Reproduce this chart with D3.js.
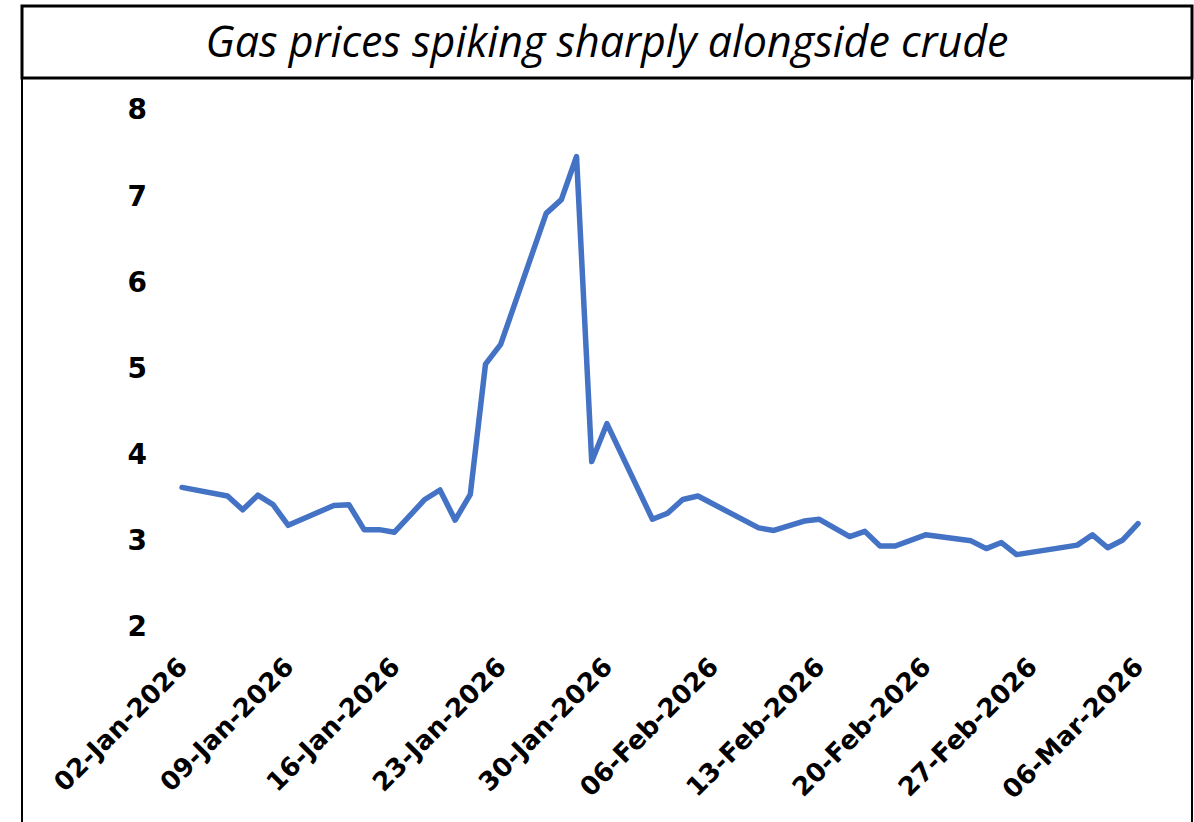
<!DOCTYPE html>
<meta charset="utf-8">
<script src="https://d3js.org/d3.v7.min.js"></script>
<style>
body { margin: 0; background: #fff; }
</style>
<body>
<script>

// Data
var dates = ["2026-01-02","2026-01-05","2026-01-06","2026-01-07","2026-01-08","2026-01-09",
             "2026-01-12","2026-01-13","2026-01-14","2026-01-15","2026-01-16","2026-01-18",
             "2026-01-19","2026-01-20","2026-01-21","2026-01-22","2026-01-23","2026-01-26",
             "2026-01-27","2026-01-28","2026-01-29","2026-01-30","2026-02-02","2026-02-03",
             "2026-02-04","2026-02-05","2026-02-09","2026-02-10","2026-02-12","2026-02-13",
             "2026-02-15","2026-02-16","2026-02-17","2026-02-18","2026-02-20","2026-02-23",
             "2026-02-24","2026-02-25","2026-02-26","2026-03-02","2026-03-03","2026-03-04",
             "2026-03-05","2026-03-06"];
var prices = [3.62, 3.52, 3.36, 3.53, 3.42, 3.18,
              3.41, 3.42, 3.13, 3.13, 3.10, 3.48,
              3.59, 3.24, 3.54, 5.05, 5.28, 6.80,
              6.96, 7.46, 3.92, 4.36, 3.25, 3.32,
              3.48, 3.52, 3.15, 3.12, 3.23, 3.25,
              3.05, 3.11, 2.94, 2.94, 3.07, 3.00,
              2.91, 2.98, 2.84, 2.95, 3.07, 2.92,
              3.01, 3.20];
var tickDates = ["2026-01-02","2026-01-09","2026-01-16","2026-01-23","2026-01-30",
                 "2026-02-06","2026-02-13","2026-02-20","2026-02-27","2026-03-06"];
var yTicks = [2, 3, 4, 5, 6, 7, 8];
var title = "Gas prices spiking sharply alongside crude";

var W = 1194, H = 822;
var parse = d3.utcParse("%Y-%m-%d");
var fmt = d3.utcFormat("%d-%b-%Y");

var data = dates.map(function(d, i) { return {date: parse(d), value: prices[i]}; });

var svg = d3.select("body").append("svg")
    .attr("width", W)
    .attr("height", H);

// frame
svg.append("rect")
    .attr("x", 22).attr("y", 6)
    .attr("width", 1170).attr("height", 840)
    .attr("fill", "none")
    .attr("stroke", "#000")
    .attr("stroke-width", 2);
svg.append("rect")
    .attr("x", 22).attr("y", 6)
    .attr("width", 1170).attr("height", 72)
    .attr("fill", "none")
    .attr("stroke", "#000")
    .attr("stroke-width", 3);

svg.append("text")
    .attr("x", 607)
    .attr("y", 57)
    .attr("text-anchor", "middle")
    .attr("font-family", "Open Sans")
    .attr("font-style", "italic")
    .attr("font-size", "43px")
    .attr("fill", "#000")
    .text(title);

var x = d3.scaleUtc()
    .domain([parse(dates[0]), parse(dates[dates.length - 1])])
    .range([182, 1138]);
var y = d3.scaleLinear().domain([2, 8]).range([627, 110]);

// y axis (labels only)
var yAxis = svg.append("g")
    .attr("transform", "translate(147,0)")
    .call(d3.axisLeft(y).tickValues(yTicks).tickSize(0).tickPadding(0).tickFormat(d3.format("d")));
yAxis.select(".domain").remove();
yAxis.selectAll("text")
    .attr("font-family", "DejaVu Sans")
    .attr("font-weight", "bold")
    .attr("font-size", "28px")
    .attr("fill", "#000");

// x axis (rotated labels only)
var xAxis = svg.append("g")
    .attr("transform", "translate(0,650)")
    .call(d3.axisBottom(x).tickValues(tickDates.map(parse)).tickSize(0).tickFormat(fmt));
xAxis.select(".domain").remove();
xAxis.selectAll("text")
    .attr("font-family", "DejaVu Sans")
    .attr("font-weight", "bold")
    .attr("font-size", "26px")
    .attr("fill", "#000")
    .attr("text-anchor", "end")
    .attr("dy", "0.35em")
    .attr("transform", "translate(-2,10) rotate(-45)");

var line = d3.line()
    .x(function(d) { return x(d.date); })
    .y(function(d) { return y(d.value); });

svg.append("path")
    .datum(data)
    .attr("d", line)
    .attr("fill", "none")
    .attr("stroke", "#4472C4")
    .attr("stroke-width", 5.5)
    .attr("stroke-linejoin", "round")
    .attr("stroke-linecap", "round");

</script>
</body>
</html>
